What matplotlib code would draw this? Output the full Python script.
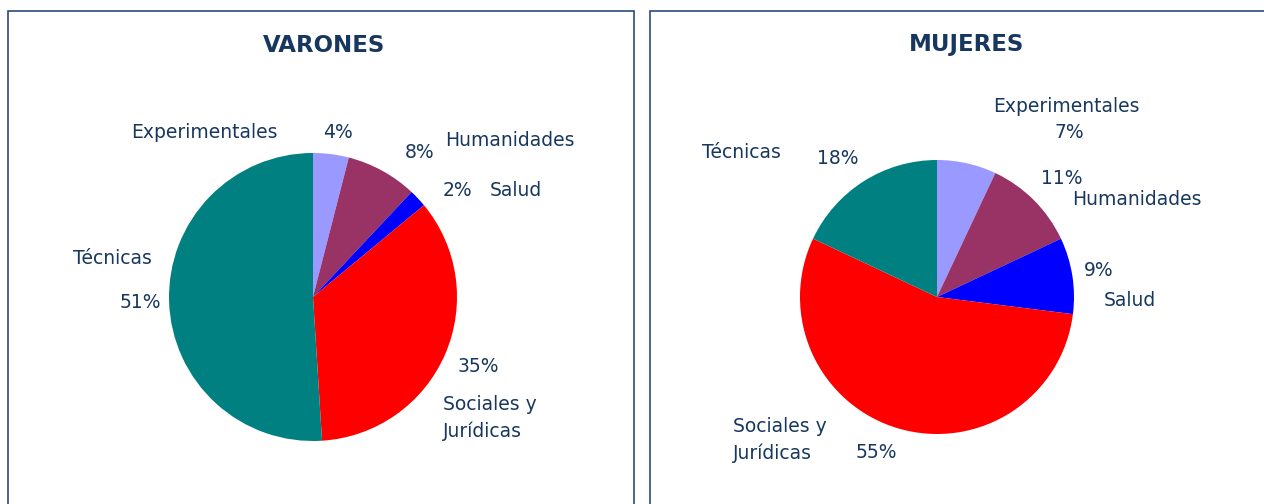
import matplotlib.pyplot as plt
import matplotlib.patches as mpatches

W, H = 1264, 504

areas = ["Experimentales", "Humanidades", "Salud", "Sociales y\nJurídicas", "Técnicas"]
colors = ["#9999FF", "#993366", "#0000FF", "#FF0000", "#008080"]
varones = [4, 8, 2, 35, 51]
mujeres = [7, 11, 9, 55, 18]

txt_col = "#17375E"
border_col = "#2B4A7A"

plt.rcParams['font.family'] = ['DejaVu Sans']

fig = plt.figure(figsize=(W / 100, H / 100), dpi=100)


def px(x, y):
    # pixel coords (top-left origin) -> figure fraction
    return x / W, 1 - y / H


def pie_axes(cx, cy, r):
    ax = fig.add_axes([(cx - r) / W, 1 - (cy + r) / H, 2 * r / W, 2 * r / H])
    return ax


# frames
fig.patches.append(mpatches.Rectangle(px(8, 520), 626 / W, 509 / H, transform=fig.transFigure,
                                      fill=False, edgecolor=border_col, linewidth=1.2))
fig.patches.append(mpatches.Rectangle(px(650, 520), 640 / W, 509 / H, transform=fig.transFigure,
                                      fill=False, edgecolor=border_col, linewidth=1.2))

fig.text(*px(324, 45), "VARONES", ha="center", va="center", fontsize=16.5,
         fontweight="bold", color=txt_col)
fig.text(*px(967, 45), "MUJERES", ha="center", va="center", fontsize=16.5,
         fontweight="bold", color=txt_col)

ax1 = pie_axes(313, 297, 144)
ax1.pie(varones, colors=colors, startangle=90, counterclock=False, radius=1,
        wedgeprops=dict(linewidth=0))

ax2 = pie_axes(937, 297, 137)
ax2.pie(mujeres, colors=colors, startangle=90, counterclock=False, radius=1,
        wedgeprops=dict(linewidth=0))

for ax in (ax1, ax2):
    ax.set_xlim(-1, 1)
    ax.set_ylim(-1, 1)
    ax.axis("off")

fs = 13.5
# label placements (pixels): name position, pct position
lab_v = [
    ((204, 132, "center"), (338, 133)),
    ((510, 141, "center"), (420, 152)),
    ((516, 191, "center"), (457, 191)),
    ((443, 418, "left"), (478, 367)),
    ((112, 259, "center"), (140, 302)),
]
lab_m = [
    ((1066, 107, "center"), (1069, 132)),
    ((1137, 200, "center"), (1062, 178)),
    ((1130, 301, "center"), (1099, 270)),
    ((733, 440, "left"), (876, 453)),
    ((741, 153, "center"), (838, 158)),
]

for vals, labs in ((varones, lab_v), (mujeres, lab_m)):
    for name, v, ((nx, ny, ha), (qx, qy)) in zip(areas, vals, labs):
        fig.text(*px(nx, ny), name, ha=ha, va="center", fontsize=fs, color=txt_col,
                 linespacing=1.45)
        fig.text(*px(qx, qy), f"{v}%", ha="center", va="center", fontsize=fs, color=txt_col)

fig.savefig("out.png", dpi=100)
